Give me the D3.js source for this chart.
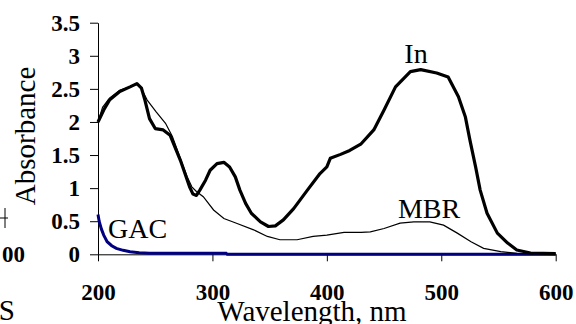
<!DOCTYPE html>
<html>
<head>
<meta charset="utf-8">
<script src="https://cdn.jsdelivr.net/npm/d3@7"></script>
<style>
  body { margin: 0; background: #fff; }
  svg { display: block; font-family: "Liberation Serif", "Times New Roman", serif; }
  .axis path, .axis line { stroke: #000; }
  .axis text { font-family: "Liberation Serif", "Times New Roman", serif; font-weight: bold; font-size: 23px; fill: #000; }
</style>
</head>
<body>
<div class="chart"></div>
<script>
// spectra (wavelength nm, absorbance)
var inWl = [200, 205, 210, 219, 228, 234, 238, 241, 245, 250, 257, 263, 267, 272, 276, 280, 283, 286, 289, 294, 298, 304, 310, 315, 320, 324, 329, 334, 342, 349, 355, 362, 371, 383, 394, 400, 403, 412, 420, 430, 441, 450, 460, 473, 482, 496, 506, 515, 521, 525, 530, 534, 540, 549, 558, 566, 578, 600];
var inAbs = [2.00, 2.18, 2.33, 2.46, 2.53, 2.58, 2.51, 2.33, 2.05, 1.90, 1.88, 1.80, 1.63, 1.42, 1.22, 1.02, 0.91, 0.89, 0.97, 1.12, 1.27, 1.37, 1.39, 1.32, 1.17, 0.97, 0.77, 0.62, 0.49, 0.42, 0.43, 0.52, 0.69, 0.97, 1.22, 1.32, 1.45, 1.51, 1.57, 1.67, 1.88, 2.18, 2.53, 2.76, 2.79, 2.74, 2.68, 2.38, 2.08, 1.73, 1.32, 0.97, 0.62, 0.32, 0.17, 0.065, 0.02, 0.01];

var mbrWl = [200, 204, 210, 219, 228, 234, 238, 243, 251, 259, 265, 272, 278, 282, 286, 292, 301, 310, 321, 336, 348, 359, 374, 388, 400, 415, 430, 438, 450, 464, 476, 490, 502, 514, 526, 537, 552, 566, 580];
var mbrAbs = [2.00, 2.22, 2.36, 2.48, 2.53, 2.57, 2.50, 2.33, 2.15, 1.98, 1.78, 1.45, 1.17, 1.02, 0.95, 0.87, 0.67, 0.54, 0.47, 0.37, 0.27, 0.22, 0.22, 0.27, 0.29, 0.33, 0.33, 0.34, 0.39, 0.47, 0.49, 0.49, 0.44, 0.32, 0.19, 0.09, 0.04, 0.015, 0.005];

var gacWl = [200, 201, 203, 205, 208, 212, 216, 222, 228, 236, 245, 260, 312, 313, 600];
var gacAbs = [0.60, 0.50, 0.38, 0.29, 0.19, 0.13, 0.09, 0.06, 0.04, 0.025, 0.015, 0.015, 0.015, 0.0, 0.0];

var xTicks = [200, 300, 400, 500, 600];
var yTicks = [0, 0.5, 1, 1.5, 2, 2.5, 3, 3.5];

var svg = d3.select('.chart')
  .append('svg')
    .attr('width', 576)
    .attr('height', 324);

var x = d3.scaleLinear().domain([200, 600]).range([98, 555.7]);
var y = d3.scaleLinear().domain([0, 3.5]).range([254.3, 22.7]);

// x axis
svg.append('g')
  .attr('class', 'axis')
  .attr('transform', 'translate(0,' + y(0) + ')')
  .call(d3.axisBottom(x).tickValues(xTicks).tickFormat(d3.format('d'))
    .tickSize(7).tickSizeOuter(0).tickPadding(22));

// y axis
svg.append('g')
  .attr('class', 'axis')
  .attr('transform', 'translate(' + x(200) + ',0)')
  .call(d3.axisLeft(y).tickValues(yTicks).tickFormat(d => d)
    .tickSize(8).tickSizeOuter(0).tickPadding(10));

var line = d3.line()
  .x(d => x(d[0]))
  .y(d => y(d[1]));

function pairs(wl, ab) {
  return wl.map((w, i) => [w, ab[i]]);
}

svg.append('path')
  .attr('d', line(pairs(gacWl, gacAbs)))
  .attr('fill', 'none')
  .attr('stroke', '#000080')
  .attr('stroke-width', 3);

svg.append('path')
  .attr('d', line(pairs(inWl, inAbs)))
  .attr('fill', 'none')
  .attr('stroke', '#000')
  .attr('stroke-width', 3.2)
  .attr('stroke-linejoin', 'round');

svg.append('path')
  .attr('d', line(pairs(mbrWl, mbrAbs)))
  .attr('fill', 'none')
  .attr('stroke', '#000')
  .attr('stroke-width', 1.2);

// series labels
var labels = svg.append('g').attr('font-size', 28);
labels.append('text').attr('x', 416).attr('y', 63).attr('text-anchor', 'middle').text('In');
labels.append('text').attr('x', 429).attr('y', 218).attr('text-anchor', 'middle').text('MBR');
labels.append('text').attr('x', 108).attr('y', 238).text('GAC');

// axis titles
svg.append('text')
  .attr('x', 312).attr('y', 321)
  .attr('text-anchor', 'middle')
  .attr('font-size', 29)
  .text('Wavelength, nm');

svg.append('text')
  .attr('transform', 'translate(35,136) rotate(-90)')
  .attr('text-anchor', 'middle')
  .attr('font-size', 29)
  .text('Absorbance');

// bits of the neighbouring panel cut off at the left edge
svg.append('path')
  .attr('d', 'M0,218H8M5,208V228')
  .attr('stroke', '#000')
  .attr('fill', 'none');
svg.append('text')
  .attr('x', 25).attr('y', 262)
  .attr('text-anchor', 'end')
  .attr('font-size', 23).attr('font-weight', 'bold')
  .text('00');
svg.append('text')
  .attr('x', 15).attr('y', 320)
  .attr('text-anchor', 'end')
  .attr('font-size', 29)
  .text('IS');
</script>
</body>
</html>
